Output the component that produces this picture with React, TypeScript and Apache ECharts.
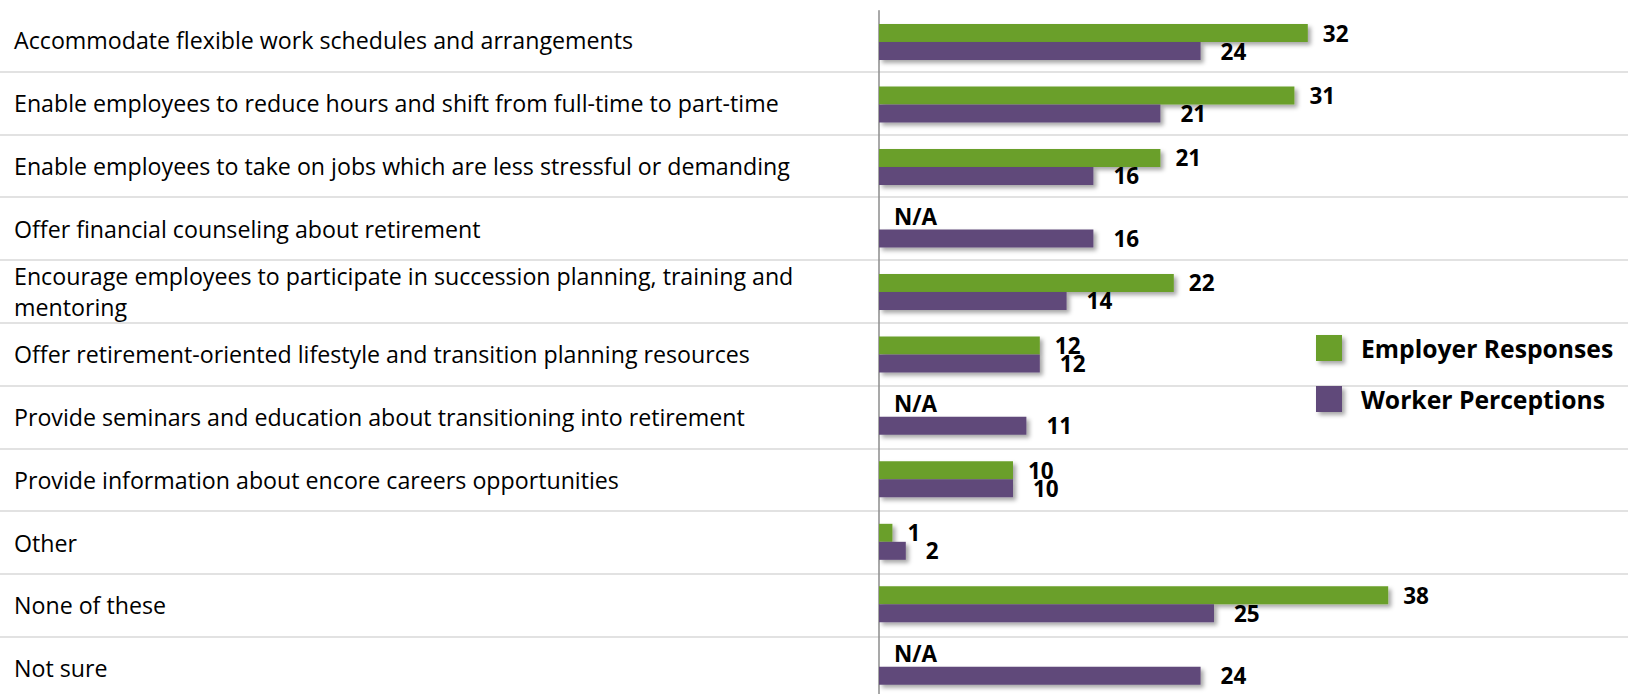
import React, { useEffect, useRef } from "react";
import * as echarts from "echarts";

const categories = [
  "Accommodate flexible work schedules and arrangements",
  "Enable employees to reduce hours and shift from full-time to part-time",
  "Enable employees to take on jobs which are less stressful or demanding",
  "Offer financial counseling about retirement",
  "Encourage employees to participate in succession planning, training and\nmentoring",
  "Offer retirement-oriented lifestyle and transition planning resources",
  "Provide seminars and education about transitioning into retirement",
  "Provide information about encore careers opportunities",
  "Other",
  "None of these",
  "Not sure",
];

const seriesNames = ["Employer Responses", "Worker Perceptions"];
// null = N/A
const employerValues: (number | null)[] = [32, 31, 21, null, 22, 12, null, 10, 1, 38, null];
const workerValues: number[] = [24, 21, 16, 16, 14, 12, 11, 10, 2, 25, 24];

const GREEN = "#6a9f29";
const PURPLE = "#614a7a";
const FONT = "'Open Sans', Lato, sans-serif";

export default function App() {
  const ref = useRef<HTMLDivElement>(null);

  useEffect(() => {
    if (!ref.current) return;
    const chart = echarts.init(ref.current, undefined, { renderer: "svg" });

    const shadow = {
      shadowColor: "rgba(0,0,0,0.35)",
      shadowBlur: 4,
      shadowOffsetX: 3,
      shadowOffsetY: 3,
    };

    const valueLabel = (distance: number) => ({
      show: true,
      position: "right" as const,
      distance,
      fontFamily: FONT,
      fontSize: 22.5,
      fontWeight: "bold" as const,
      color: "#000",
    });

    const employerData = employerValues.map((v) =>
      v === null
        ? { value: 0, label: { formatter: "N/A", offset: [0, -4] } }
        : { value: v }
    );

    chart.setOption({
      animation: false,
      backgroundColor: "#fff",
      textStyle: { fontFamily: FONT },
      grid: [
        { left: 879, width: 670, top: 10.8, height: 687.2 },
        { left: 0, right: 0, top: 8.9, height: 690.6 },
      ],
      legend: {
        orient: "vertical",
        left: 1311,
        top: 330,
        itemWidth: 26,
        itemHeight: 26,
        itemGap: 25,
        icon: "rect",
        data: seriesNames,
        itemStyle: { ...shadow },
        textStyle: {
          fontFamily: FONT,
          fontSize: 24.7,
          fontWeight: "bold",
          color: "#000",
          padding: [0, 0, 0, 14],
        },
      },
      xAxis: [
        { type: "value", gridIndex: 0, min: 0, max: 50, show: false },
        { type: "value", gridIndex: 1, min: 0, max: 1, show: false },
      ],
      yAxis: [
        {
          type: "category",
          gridIndex: 0,
          inverse: true,
          data: categories,
          axisLine: { show: true, lineStyle: { color: "#8c8c8c", width: 1.5 } },
          axisTick: { show: false },
          axisLabel: { show: false },
          splitLine: { show: false },
        },
        {
          type: "category",
          gridIndex: 1,
          inverse: true,
          data: categories,
          axisLine: { show: false },
          axisTick: { show: false },
          axisLabel: {
            show: true,
            inside: true,
            margin: 14,
            align: "left",
            fontFamily: FONT,
            fontSize: 23.2,
            lineHeight: 31,
            color: "#000",
            padding: [5, 0, 0, 0],
          },
          splitLine: {
            show: true,
            showMinLine: false,
            lineStyle: { color: "#d9d9d9", width: 1.5 },
          },
        },
      ],
      series: [
        {
          name: seriesNames[0],
          type: "bar",
          xAxisIndex: 0,
          yAxisIndex: 0,
          data: employerData,
          barWidth: 18,
          barGap: "0%",
          itemStyle: { color: GREEN, ...shadow },
          label: valueLabel(15),
          z: 3,
        },
        {
          name: seriesNames[1],
          type: "bar",
          xAxisIndex: 0,
          yAxisIndex: 0,
          data: workerValues,
          barWidth: 18,
          barGap: "0%",
          itemStyle: { color: PURPLE, ...shadow },
          label: valueLabel(20),
          z: 3,
        },
      ],
    });

    return () => chart.dispose();
  }, []);

  return (
    <div
      ref={ref}
      style={{ position: "fixed", left: 0, top: 0, width: 1628, height: 704 }}
    />
  );
}
